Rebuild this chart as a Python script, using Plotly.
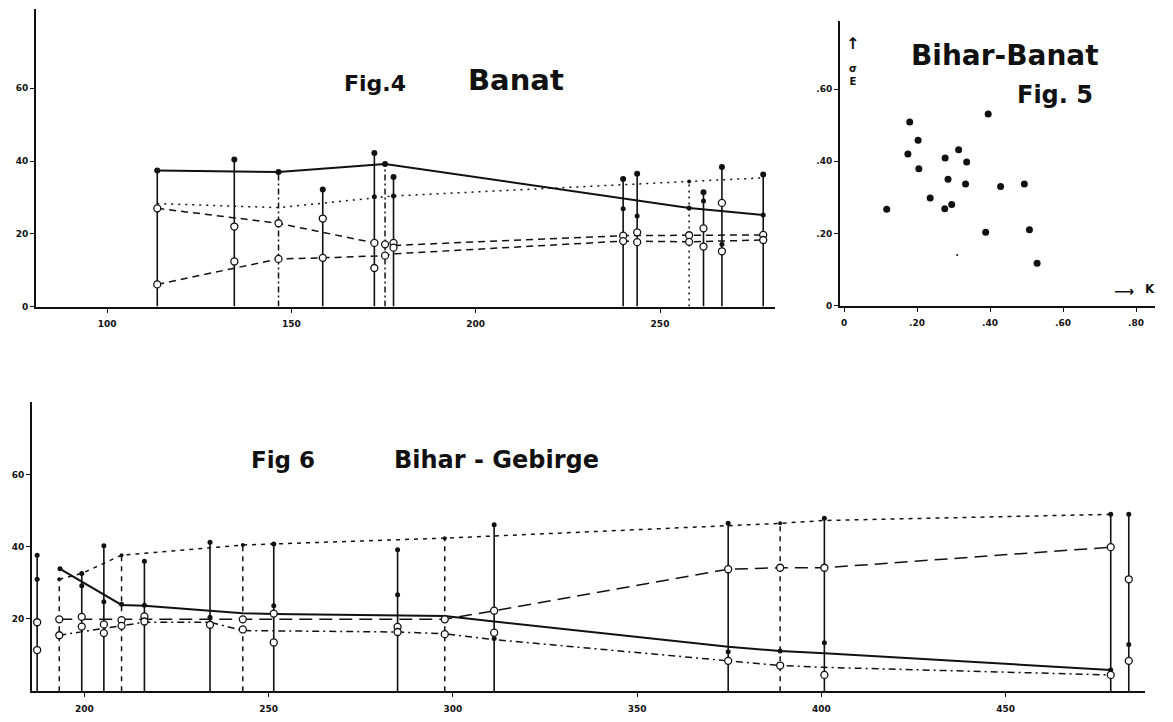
import plotly.graph_objects as go

# page body has an 8px margin, so the figure is sized to fit inside it
OFF = 8
W, H = 1173 - 2 * OFF, 722 - 2 * OFF

# ---------------- Fig. 4  Banat ----------------
f4_vert_solid_x = [113.6, 134.5, 158.5, 172.5, 177.7, 240.0, 243.8, 261.8, 266.8, 278.0]
f4_vert_solid_top = [37.4, 40.4, 32.2, 42.2, 35.6, 35.1, 36.5, 31.4, 38.4, 36.3]
f4_vert_dashdot_x = [146.5, 175.4]
f4_vert_dashdot_top = [37.0, 39.2]
f4_vert_dot_x = [257.9]
f4_vert_dot_top = [34.4]

f4_solid_x = [113.6, 146.5, 175.4, 257.9, 278.0]
f4_solid_y = [37.4, 37.0, 39.2, 27.1, 25.2]
f4_dotted_x = [113.6, 146.5, 177.7, 240.0, 257.9, 278.0]
f4_dotted_y = [28.3, 27.2, 30.4, 33.5, 34.4, 35.4]
f4_dashA_x = [113.6, 146.5, 172.5, 177.7, 240.0, 257.9, 278.0]
f4_dashA_y = [27.0, 22.9, 17.5, 16.8, 19.5, 19.6, 19.7]
f4_dashB_x = [113.6, 146.5, 158.5, 175.4, 177.7, 240.0, 257.9, 278.0]
f4_dashB_y = [6.1, 13.1, 13.4, 14.0, 14.5, 18.0, 17.8, 18.3]

f4_filled_x = [240.0, 243.8, 257.9, 261.8, 266.8, 278.0, 172.5, 177.7]
f4_filled_y = [26.9, 24.9, 27.1, 29.0, 17.1, 25.2, 30.2, 30.4]
f4_open_x = [113.6, 113.6, 134.5, 134.5, 146.5, 146.5, 158.5, 158.5, 172.5, 172.5,
             175.4, 175.4, 177.7, 177.7, 240.0, 240.0, 243.8, 243.8, 257.9, 257.9,
             261.8, 261.8, 266.8, 266.8, 278.0, 278.0]
f4_open_y = [27.0, 6.1, 22.0, 12.4, 22.9, 13.1, 24.2, 13.4, 17.5, 10.6,
             17.1, 14.0, 17.5, 16.2, 19.5, 18.0, 20.4, 17.7, 19.6, 17.8,
             21.5, 16.5, 28.5, 15.2, 19.7, 18.3]
f4_xticks = [100, 150, 200, 250]
f4_yticks = [0, 20, 40, 60]

# ---------------- Fig. 5  Bihar-Banat ----------------
f5_k = [0.117, 0.180, 0.175, 0.203, 0.205, 0.236, 0.277, 0.285, 0.276, 0.295,
        0.314, 0.336, 0.333, 0.395, 0.388, 0.429, 0.494, 0.508, 0.529]
f5_sigma = [0.267, 0.509, 0.420, 0.458, 0.379, 0.298, 0.409, 0.350, 0.268, 0.280,
            0.432, 0.398, 0.337, 0.531, 0.203, 0.330, 0.337, 0.210, 0.117]
f5_speck_k = [0.310]
f5_speck_sigma = [0.140]
f5_ticks = [0, 0.2, 0.4, 0.6, 0.8]
f5_xticklabels = ["0", ".20", ".40", ".60", ".80"]
f5_yticks = [0, 0.2, 0.4, 0.6]
f5_yticklabels = ["0", ".20", ".40", ".60"]

# ---------------- Fig. 6  Bihar-Gebirge ----------------
f6_vert_solid_x = [187.2, 199.3, 205.3, 216.3, 234.1, 251.4, 285.0, 311.2, 374.7, 400.8, 478.5, 483.4]
f6_vert_solid_top = [37.7, 32.6, 40.3, 36.0, 41.3, 40.8, 39.2, 46.1, 46.5, 47.9, 49.0, 49.0]
f6_vert_dash_x = [193.2, 210.1, 243.0, 297.8, 388.8]
f6_vert_dash_top = [31.0, 37.7, 40.5, 42.4, 46.5]

f6_solid_x = [193.4, 210.1, 216.3, 243.0, 251.4, 297.8, 374.7, 388.8, 400.8, 478.5]
f6_solid_y = [33.9, 23.9, 23.7, 21.6, 21.4, 20.8, 12.3, 11.1, 10.5, 5.9]
f6_dotted_x = [193.2, 199.3, 210.1, 243.0, 297.8, 374.7, 388.8, 400.8, 478.5]
f6_dotted_y = [31.0, 32.6, 37.7, 40.5, 42.4, 45.9, 46.5, 47.3, 49.0]
f6_longdash_x = [193.2, 243.0, 297.8, 311.2, 374.7, 388.8, 400.8, 478.5]
f6_longdash_y = [19.9, 19.9, 19.9, 22.3, 33.8, 34.2, 34.2, 39.9]
f6_dashdot_x = [193.2, 210.1, 216.3, 234.1, 243.0, 285.0, 297.8, 311.2, 374.7, 388.8, 400.8, 478.5]
f6_dashdot_y = [15.5, 18.0, 19.1, 19.1, 16.8, 16.4, 15.9, 14.3, 8.4, 7.1, 6.6, 4.5]

f6_filled_x = [193.4, 199.3, 205.3, 210.1, 216.3, 234.1, 251.4, 285.0, 297.8, 311.2,
               374.7, 388.8, 400.8, 478.5, 483.4, 187.2]
f6_filled_y = [33.9, 29.2, 24.8, 24.1, 23.8, 20.5, 23.7, 26.7, 20.5, 14.6,
               10.9, 11.1, 13.4, 5.9, 12.9, 31.0]
f6_open_x = [187.2, 187.2, 193.2, 193.2, 199.3, 199.3, 205.3, 205.3, 210.1, 210.1,
             216.3, 216.3, 234.1, 243.0, 243.0, 251.4, 251.4, 285.0, 285.0, 297.8,
             297.8, 311.2, 311.2, 374.7, 374.7, 388.8, 388.8, 400.8, 400.8, 478.5,
             478.5, 483.4, 483.4]
f6_open_y = [19.1, 11.4, 19.9, 15.5, 20.6, 17.9, 18.5, 16.1, 19.7, 18.1,
             20.7, 19.3, 18.4, 19.9, 17.1, 21.5, 13.5, 17.8, 16.4, 19.9,
             15.8, 22.3, 16.2, 33.8, 8.4, 34.2, 7.1, 34.2, 4.5, 39.9,
             4.5, 31.0, 8.4]
f6_xticks = [200, 250, 300, 350, 400, 450]
f6_yticks = [20, 40, 60]


def verticals(xs, tops):
    vx, vy = [], []
    for x, t in zip(xs, tops):
        vx += [x, x, None]
        vy += [0, t, None]
    return vx, vy


def fx(px):
    return (px - OFF) / W


def fy(py):
    return 1 - (py - OFF) / H


fig = go.Figure()
INK = "#111111"


def add_line(x, y, dash, width, xa, ya):
    fig.add_trace(go.Scatter(x=x, y=y, mode="lines", xaxis=xa, yaxis=ya,
                             line=dict(color=INK, width=width, dash=dash),
                             hoverinfo="skip", showlegend=False))


def add_markers(x, y, filled, xa, ya, size=6):
    if filled:
        m = dict(color=INK, size=size, line=dict(width=0))
    else:
        m = dict(color="white", size=size, line=dict(color=INK, width=1.3))
    fig.add_trace(go.Scatter(x=x, y=y, mode="markers", xaxis=xa, yaxis=ya,
                             marker=m, hoverinfo="skip", showlegend=False))


# Fig 4 traces
vx, vy = verticals(f4_vert_solid_x, f4_vert_solid_top)
add_line(vx, vy, "solid", 1.6, "x", "y")
vx, vy = verticals(f4_vert_dashdot_x, f4_vert_dashdot_top)
add_line(vx, vy, "6px,3px,2px,3px", 1.5, "x", "y")
vx, vy = verticals(f4_vert_dot_x, f4_vert_dot_top)
add_line(vx, vy, "2px,4px", 1.5, "x", "y")
add_line(f4_solid_x, f4_solid_y, "solid", 2, "x", "y")
add_line(f4_dotted_x, f4_dotted_y, "2px,5px", 1.5, "x", "y")
add_line(f4_dashA_x, f4_dashA_y, "7px,5px", 1.5, "x", "y")
add_line(f4_dashB_x, f4_dashB_y, "7px,5px", 1.5, "x", "y")
add_markers(f4_vert_solid_x + f4_vert_dashdot_x, f4_vert_solid_top + f4_vert_dashdot_top, True, "x", "y")
add_markers(f4_vert_dot_x, f4_vert_dot_top, True, "x", "y", size=4)
add_markers(f4_filled_x, f4_filled_y, True, "x", "y", size=5)
add_markers(f4_open_x, f4_open_y, False, "x", "y", size=7)

# Fig 5 traces
add_markers(f5_k, f5_sigma, True, "x2", "y2", size=7)
add_markers(f5_speck_k, f5_speck_sigma, True, "x2", "y2", size=2)

# Fig 6 traces
vx, vy = verticals(f6_vert_solid_x, f6_vert_solid_top)
add_line(vx, vy, "solid", 1.6, "x3", "y3")
vx, vy = verticals(f6_vert_dash_x, f6_vert_dash_top)
add_line(vx, vy, "5px,5px", 1.5, "x3", "y3")
add_line(f6_solid_x, f6_solid_y, "solid", 2, "x3", "y3")
add_line(f6_dotted_x, f6_dotted_y, "4px,5px", 1.5, "x3", "y3")
add_line(f6_longdash_x, f6_longdash_y, "13px,7px", 1.5, "x3", "y3")
add_line(f6_dashdot_x, f6_dashdot_y, "7px,4px,2px,4px", 1.5, "x3", "y3")
add_markers(f6_vert_solid_x, f6_vert_solid_top, True, "x3", "y3", size=5)
add_markers(f6_vert_dash_x, f6_vert_dash_top, True, "x3", "y3", size=4)
add_markers(f6_filled_x, f6_filled_y, True, "x3", "y3", size=5)
add_markers(f6_open_x, f6_open_y, False, "x3", "y3", size=7)

tickfont = dict(family="DejaVu Sans", size=9, color=INK, weight="bold")
axis_common = dict(showgrid=False, zeroline=False, showline=True, linecolor=INK,
                   linewidth=2, ticks="outside", ticklen=4, tickwidth=1.2,
                   tickcolor=INK, tickfont=tickfont)

fig.update_layout(
    width=W, height=H,
    margin=dict(l=0, r=0, t=0, b=0),
    paper_bgcolor="white", plot_bgcolor="white",
    xaxis=dict(domain=[fx(36), fx(775)], range=[80.7, 281.2], tickvals=f4_xticks,
               anchor="y", ticklabelstandoff=4, **axis_common),
    yaxis=dict(domain=[fy(310), fy(9)], range=[0, 81.8], tickvals=f4_yticks,
               anchor="x", **axis_common),
    xaxis2=dict(domain=[fx(840), fx(1155)], range=[-0.011, 0.852], tickvals=f5_ticks,
                ticktext=f5_xticklabels, anchor="y2", ticklabelstandoff=4, **axis_common),
    yaxis2=dict(domain=[fy(309), fy(21)], range=[0, 0.789], tickvals=f5_yticks,
                ticktext=f5_yticklabels, anchor="x2", **axis_common),
    xaxis3=dict(domain=[fx(32), fx(1145)], range=[185.8, 487.8], tickvals=f6_xticks,
                anchor="y3", ticklabelstandoff=4, **axis_common),
    yaxis3=dict(domain=[fy(699), fy(407)], range=[0, 80], tickvals=f6_yticks,
                anchor="x3", **axis_common),
)

texts = [
    ("Fig.4", 375, 84, 22),
    ("Banat", 516, 81, 29),
    ("Bihar-Banat", 1005, 56, 28),
    ("Fig. 5", 1055, 96, 24),
    ("Fig 6", 283, 465, 23),
    ("Bihar - Gebirge", 496, 465, 24),
    ("↑", 852, 44, 16),
    ("σ<br>E", 853, 76, 10),
    ("⟶", 1124, 294, 14),
    ("K", 1150, 292, 12),
]
for t, px, py, s in texts:
    fig.add_annotation(text=t, x=fx(px), y=fy(py), xref="paper", yref="paper",
                       showarrow=False, xanchor="center", yanchor="middle",
                       font=dict(size=s, family="DejaVu Sans", color=INK, weight="bold"))

fig.write_html("out.html")
